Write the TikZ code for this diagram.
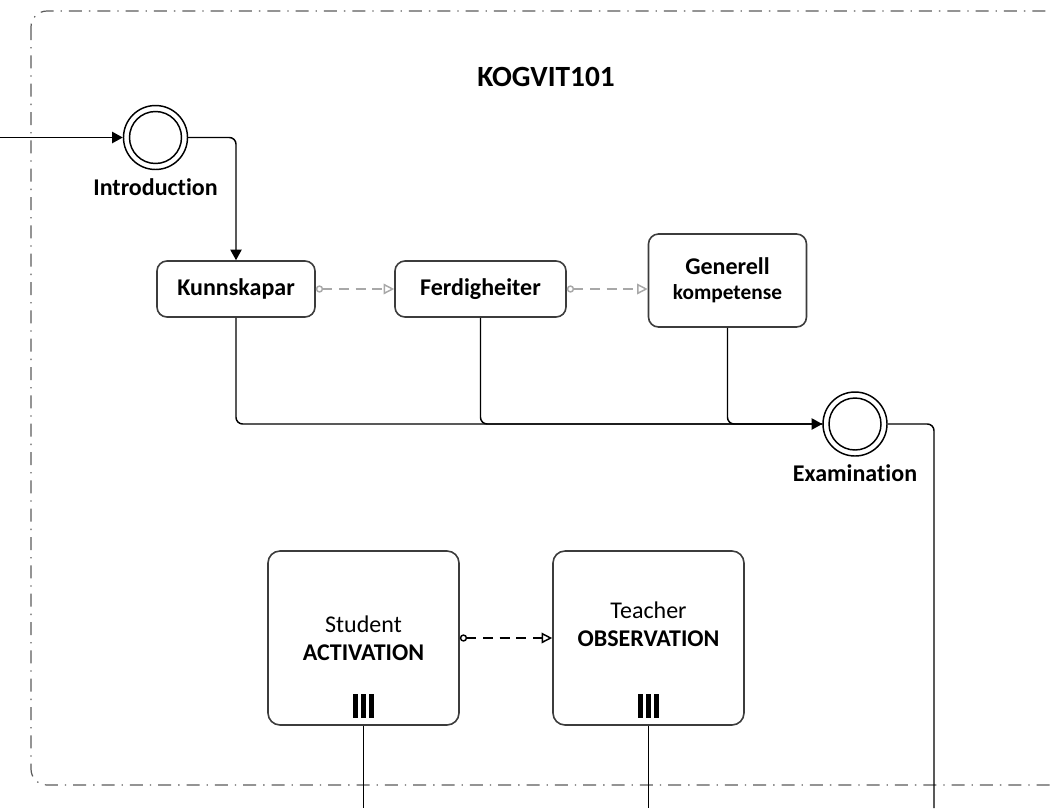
\documentclass[tikz,border=0pt]{standalone}
\usepackage{fontspec}
\setmainfont{Carlito}[Ligatures=NoCommon]
\usetikzlibrary{arrows.meta,positioning}

\definecolor{boxline}{HTML}{3C3C3C}
\definecolor{assocgray}{HTML}{A8A8A8}
\definecolor{framegray}{HTML}{5A5A5A}

\tikzset{
  every node/.style={font=\fontsize{18}{21}\selectfont},
  task/.style={draw=boxline,line width=1.2pt,rounded corners=7.5pt,
    minimum width=118.5pt,minimum height=42pt,align=center,
    font=\fontsize{18}{21}\selectfont\bfseries},
  bigtask/.style={draw=boxline,line width=1.2pt,rounded corners=9pt,
    minimum width=143.25pt,minimum height=130.5pt},
  tasktext/.style={align=center,inner sep=0pt},
  event/.style={circle,draw=black,line width=1.1pt,minimum size=48pt,inner sep=0pt,
    path picture={\draw[line width=1.1pt] (path picture bounding box.center) circle (19.5pt);}},
  evlabel/.style={font=\fontsize{18}{21}\selectfont\bfseries,inner sep=1pt},
  flow/.style={draw=black,line width=1.1pt,rounded corners=5pt,
    -{Triangle[length=8pt,width=8.5pt]}},
  seqline/.style={draw=black,line width=1.1pt,rounded corners=5pt},
  assoc/.style={draw=assocgray,line width=1.1pt,dash pattern=on 7.5pt off 5pt,
    {Circle[open,length=5.5pt,width=5.5pt]}-{Triangle[open,length=8pt,width=8pt]}},
  assocdark/.style={assoc,draw=black},
  mibar/.style={line width=4.1pt}
}

\begin{document}
\begin{tikzpicture}[x=0.75pt,y=-0.75pt]
  \useasboundingbox (0,0) rectangle (1052,808);
  \clip (0,0) rectangle (1052,808);

  % pool frame
  \draw[framegray,line width=0.9pt,dash pattern=on 9.75pt off 5.25pt on 1pt off 5.25pt,
    rounded corners=12pt] (31,11) rectangle (1100,785);
  \node[font=\fontsize{22}{26}\selectfont\bfseries] (title) at (546,77) {KOGVIT101};

  % events
  \node[event] (start) at (155.5,137.5) {};
  \node[evlabel,below=5pt of start] (startlbl) {Introduction};
  \node[event] (exam) at (855,424) {};
  \node[evlabel,below=5pt of exam] (examlbl) {Examination};

  % tasks
  \node[task] (kunn) at (236,289) {Kunnskapar};
  \node[task,minimum width=128.25pt] (ferd) at (480.5,289) {Ferdigheiter};
  \node[task,minimum height=69.75pt] (gen) at (727.5,280.5)
    {Generell\\[-2pt]{\fontsize{16}{18}\selectfont kompetense}};

  % multi-instance tasks
  \node[bigtask] (act) at (363.5,638) {};
  \node[tasktext] (acttxt) at (act.center) {Student\\\textbf{ACTIVATION}};
  \node[bigtask] (obs) at (648.5,638) {};
  \node[tasktext] (obstxt) at ([yshift=10.5pt]obs.center) {Teacher\\\textbf{OBSERVATION}};
  \foreach \t in {act,obs}
    \foreach \dx in {-8.25,0,8.25}
      \draw[mibar] ([xshift=\dx*0.75pt]\t.south) ++(0,-8) -- ++(0,-24);

  % free ends
  \coordinate (entry) at (0,137.5);
  \coordinate (examout) at (934,808);
  \coordinate (actout) at (act.south |- 0,808);
  \coordinate (obsout) at (obs.south |- 0,808);

  % connectors
  \draw[flow] (entry) -- (start);
  \draw[flow] (start) -| (kunn);
  \draw[seqline] (ferd) |- (exam);
  \draw[seqline] (gen) |- (exam);
  \draw[flow] (kunn) |- (exam);
  \draw[seqline] (exam) -| (examout);
  \draw[seqline] (act) -- (actout);
  \draw[seqline] (obs) -- (obsout);

  \draw[assoc] (kunn) -- (ferd);
  \draw[assoc] (ferd.east) -- (ferd.east -| gen.west);
  \draw[assocdark] (act) -- (obs);
\end{tikzpicture}
\end{document}
